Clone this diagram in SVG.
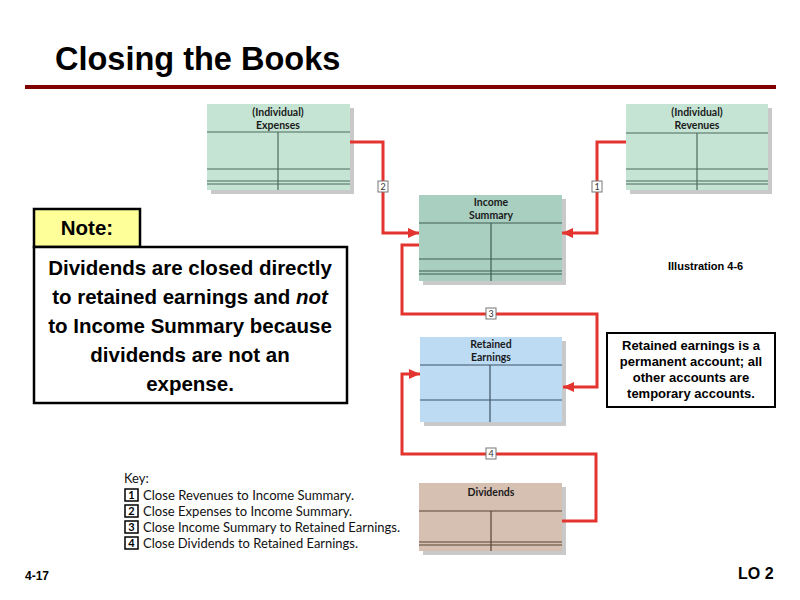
<svg xmlns="http://www.w3.org/2000/svg" width="800" height="600" viewBox="0 0 800 600">
<style>
.title{font-family:"Liberation Sans",Arial,sans-serif;font-weight:bold;font-size:32.5px;fill:#000}
.hd{font-family:Lato,"Open Sans",sans-serif;font-weight:bold;font-size:10.5px;fill:#1a1a1a;text-anchor:middle}
.shadow{fill:#c9c9c9}
.conn{fill:none;stroke:#e3342f;stroke-width:3;stroke-linejoin:miter}
.lbl rect{fill:#fff;stroke:#777;stroke-width:1}
.lbl text{font-family:Lato,sans-serif;font-size:9px;fill:#333;text-anchor:middle}
.note{font-family:"Liberation Sans",Arial,sans-serif;font-weight:bold;font-size:20.5px;fill:#000;text-anchor:middle}
.re{font-family:"Liberation Sans",Arial,sans-serif;font-weight:bold;font-size:13px;fill:#000;text-anchor:middle}
.key{font-family:Lato,"Open Sans",sans-serif;font-size:13px;fill:#111}
.kb rect{fill:#fff;stroke:#000;stroke-width:1.5}
.kb text{font-family:Lato,sans-serif;font-weight:bold;font-size:11px;fill:#000;text-anchor:middle}
.sm{font-family:"Liberation Sans",Arial,sans-serif;font-weight:bold;fill:#000}
</style>
<defs>
<marker id="ah" markerUnits="userSpaceOnUse" markerWidth="12" markerHeight="10" refX="11" refY="5" orient="auto">
<path d="M0,0 L11,5 L0,10 Z" fill="#e3342f"/>
</marker>
</defs>
<rect width="800" height="600" fill="#fff"/>
<text class="title" x="55" y="70">Closing the Books</text>
<rect x="25" y="85" width="751" height="4" fill="#800000"/>

<g id="expenses">
<rect class="shadow" x="211" y="108" width="143" height="86"/>
<rect x="207" y="104" width="143" height="86" fill="#c5e4d4"/>
<text class="hd" x="278" y="116">(Individual)</text>
<text class="hd" x="278" y="129">Expenses</text>
<g stroke="#4d6a5c" stroke-width="1.2">
<line x1="207" y1="132" x2="350" y2="132"/>
<line x1="278" y1="132" x2="278" y2="190"/>
<line x1="207" y1="169" x2="350" y2="169"/>
<line x1="207" y1="181" x2="350" y2="181"/>
<line x1="207" y1="184" x2="350" y2="184"/>
</g>
</g>

<g id="revenues">
<rect class="shadow" x="630" y="108" width="142" height="86"/>
<rect x="626" y="104" width="142" height="86" fill="#c5e4d4"/>
<text class="hd" x="697" y="116">(Individual)</text>
<text class="hd" x="697" y="129">Revenues</text>
<g stroke="#4d6a5c" stroke-width="1.2">
<line x1="626" y1="133" x2="768" y2="133"/>
<line x1="697" y1="133" x2="697" y2="190"/>
<line x1="626" y1="169" x2="768" y2="169"/>
<line x1="626" y1="181" x2="768" y2="181"/>
<line x1="626" y1="184" x2="768" y2="184"/>
</g>
</g>

<g id="income-summary">
<rect class="shadow" x="423" y="199" width="143" height="86"/>
<rect x="419" y="195" width="143" height="86" fill="#a9cfc1"/>
<text class="hd" x="491" y="206">Income</text>
<text class="hd" x="491" y="219">Summary</text>
<g stroke="#3f5e52" stroke-width="1.2">
<line x1="419" y1="223" x2="562" y2="223"/>
<line x1="491" y1="223" x2="491" y2="281"/>
<line x1="419" y1="259" x2="562" y2="259"/>
<line x1="419" y1="271" x2="562" y2="271"/>
<line x1="419" y1="274" x2="562" y2="274"/>
</g>
</g>

<g id="retained-earnings">
<rect class="shadow" x="424" y="341" width="142" height="85"/>
<rect x="420" y="337" width="142" height="85" fill="#bddcf4"/>
<text class="hd" x="491" y="348">Retained</text>
<text class="hd" x="491" y="361">Earnings</text>
<g stroke="#3c5366" stroke-width="1.2">
<line x1="420" y1="365" x2="562" y2="365"/>
<line x1="490" y1="365" x2="490" y2="422"/>
<line x1="420" y1="400" x2="562" y2="400"/>
</g>
</g>

<g id="dividends">
<rect class="shadow" x="423" y="487" width="143" height="68"/>
<rect x="419" y="483" width="143" height="68" fill="#d5c0b1"/>
<text class="hd" x="491" y="496">Dividends</text>
<g stroke="#5a4233" stroke-width="1.2">
<line x1="419" y1="511" x2="562" y2="511"/>
<line x1="491" y1="511" x2="491" y2="551"/>
<line x1="419" y1="542" x2="562" y2="542"/>
<line x1="419" y1="545" x2="562" y2="545"/>
</g>
</g>

<g id="connectors">
<path class="conn" d="M350,142 H383 V233 H419" marker-end="url(#ah)"/>
<path class="conn" d="M626,142 H597 V233 H562" marker-end="url(#ah)"/>
<path class="conn" d="M419,245 H402 V314 H597 V387 H563" marker-end="url(#ah)"/>
<path class="conn" d="M562,521 H596 V454 H402 V374 H420" marker-end="url(#ah)"/>
<g class="lbl"><rect x="378" y="181" width="10" height="11"/><text x="383" y="190">2</text></g>
<g class="lbl"><rect x="592" y="181" width="10" height="11"/><text x="597" y="190">1</text></g>
<g class="lbl"><rect x="486" y="308" width="10" height="11"/><text x="491" y="317">3</text></g>
<g class="lbl"><rect x="486" y="448" width="10" height="11"/><text x="491" y="457">4</text></g>
</g>

<g id="note">
<rect x="34" y="209" width="106" height="38" fill="#ffff99" stroke="#000" stroke-width="2.5"/>
<text class="note" x="87" y="235">Note:</text>
<rect x="34" y="247" width="313" height="156" fill="#fff" stroke="#000" stroke-width="2.5"/>
<text class="note" x="190" y="275">Dividends are closed directly</text>
<text class="note" x="190" y="304">to retained earnings and <tspan font-style="italic">not</tspan></text>
<text class="note" x="190" y="333">to Income Summary because</text>
<text class="note" x="190" y="362">dividends are not an</text>
<text class="note" x="190" y="391">expense.</text>
</g>

<g id="retained-note">
<rect x="607" y="333" width="168" height="74" fill="#fff" stroke="#000" stroke-width="2"/>
<text class="re" x="691" y="350">Retained earnings is a</text>
<text class="re" x="691" y="366">permanent account; all</text>
<text class="re" x="691" y="382">other accounts are</text>
<text class="re" x="691" y="398">temporary accounts.</text>
</g>

<text class="sm" x="668" y="270" font-size="11">Illustration 4-6</text>

<g id="key">
<text class="key" x="124" y="483">Key:</text>
<g class="kb"><rect x="125" y="489" width="13" height="12"/><text x="131.5" y="499">1</text></g>
<text class="key" x="143" y="500" textLength="211" lengthAdjust="spacingAndGlyphs">Close Revenues to Income Summary.</text>
<g class="kb"><rect x="125" y="505" width="13" height="12"/><text x="131.5" y="515">2</text></g>
<text class="key" x="143" y="516" textLength="209" lengthAdjust="spacingAndGlyphs">Close Expenses to Income Summary.</text>
<g class="kb"><rect x="125" y="521" width="13" height="12"/><text x="131.5" y="531">3</text></g>
<text class="key" x="143" y="532" textLength="257" lengthAdjust="spacingAndGlyphs">Close Income Summary to Retained Earnings.</text>
<g class="kb"><rect x="125" y="537" width="13" height="12"/><text x="131.5" y="547">4</text></g>
<text class="key" x="143" y="548" textLength="215" lengthAdjust="spacingAndGlyphs">Close Dividends to Retained Earnings.</text>
</g>

<text class="sm" x="25" y="580" font-size="12">4-17</text>
<text class="sm" x="738" y="579" font-size="16">LO 2</text>
</svg>
